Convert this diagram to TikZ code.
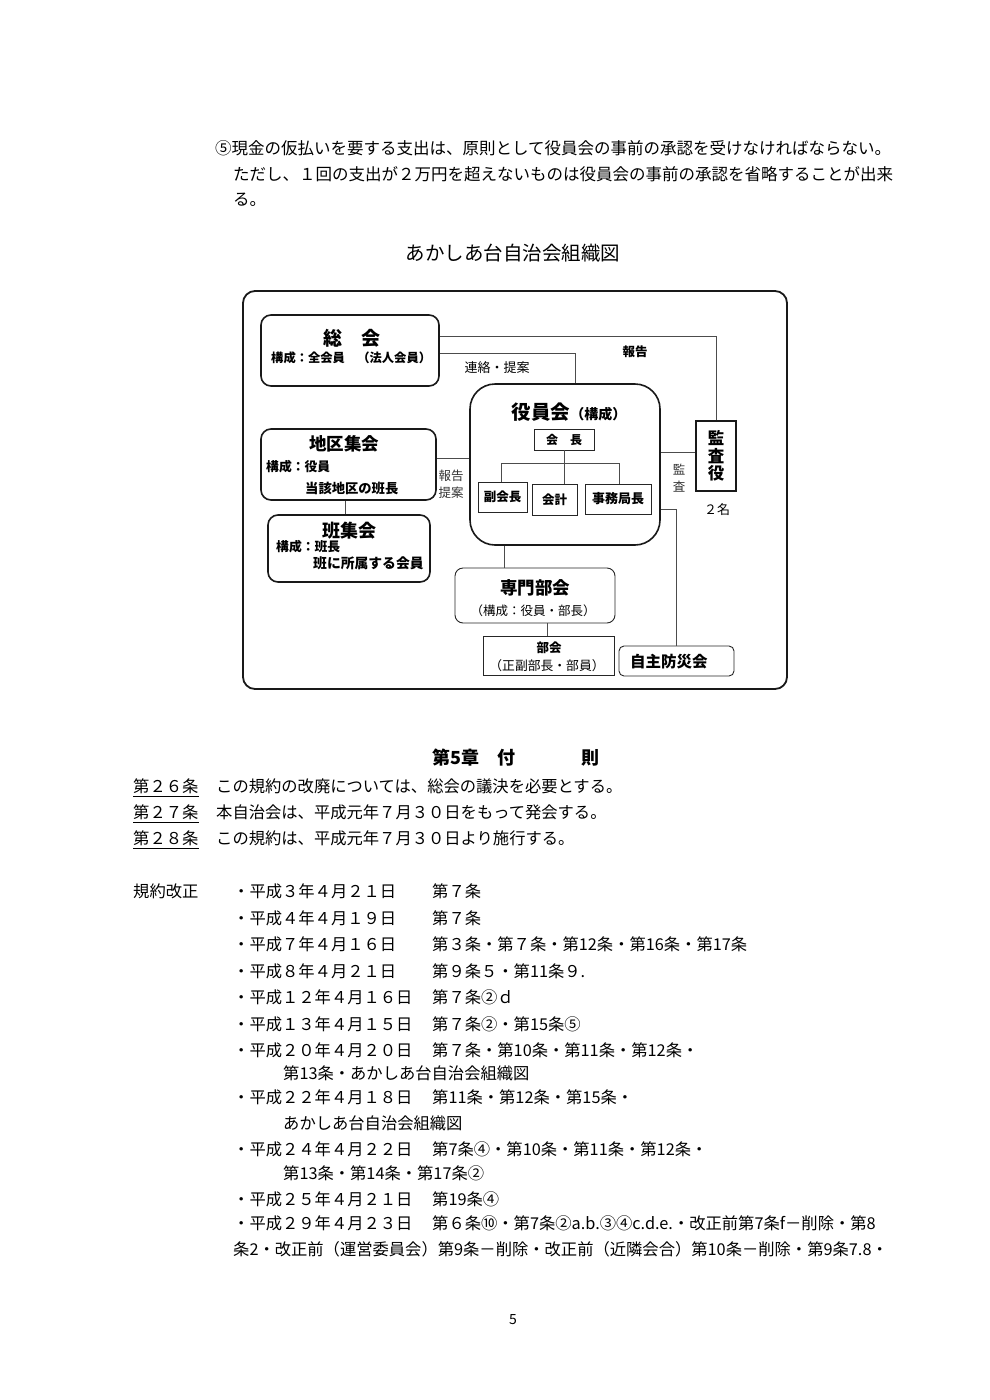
\documentclass[tikz,border=0pt]{standalone}
\usepackage{fontspec}
\setmainfont{Noto Sans CJK JP}
\usetikzlibrary{calc}
\newcommand\setfs[1]{\fontsize{#1}{#1}\selectfont}
\begin{document}
\begin{tikzpicture}[x=1pt,y=-1pt,
  txt/.style={inner sep=0pt, anchor=west},
  ctxt/.style={inner sep=0pt},
  mbox/.style={draw=black!90, line width=1.6pt, rounded corners=10pt, inner sep=0pt},
  sbox/.style={draw=black!85, line width=0.9pt, inner sep=0pt},
  conn/.style={draw=black!70, line width=0.9pt},
  body/.style={txt, font=\setfs{16.3}},
  lbl/.style={ctxt, font=\setfs{12.5}},
  blbl/.style={ctxt, font=\bfseries\setfs{12.5}}]
\fill[white] (0,0) rectangle (990,1400);
\useasboundingbox (0,0) rectangle (990,1400);

% ---- top paragraph
\node[txt, font=\setfs{16.5}] (p1) at (215,148) {⑤現金の仮払いを要する支出は、原則として役員会の事前の承認を受けなければならない。};
\node[txt, font=\setfs{16.5}] (p2) at (233,174) {ただし、１回の支出が２万円を超えないものは役員会の事前の承認を省略することが出来};
\node[txt, font=\setfs{16.5}] (p3) at (233,200) {る。};

\node[ctxt, font=\setfs{19.5}] (title) at (513,253) {あかしあ台自治会組織図};

% ---- diagram frame
\node[draw=black!90, line width=1.8pt, rounded corners=12pt, minimum width=544pt, minimum height=398pt, inner sep=0pt] (frame) at (515,490) {};

% boxes
\node[mbox, minimum width=178pt, minimum height=71pt] (soukai) at (350,350.5) {};
\node[mbox, minimum width=175pt, minimum height=71pt] (chiku) at (348.5,464.5) {};
\node[mbox, minimum width=162pt, minimum height=67pt] (han) at (349,548.5) {};
\node[mbox, rounded corners=25pt, minimum width=190pt, minimum height=161pt] (yakuin) at (565,464.5) {};
\node[sbox, minimum width=60pt, minimum height=21pt] (kaicho) at (564,439.5) {};
\node[sbox, minimum width=49pt, minimum height=30pt] (fuku) at (502.5,497) {};
\node[sbox, minimum width=45pt, minimum height=31pt] (kaikei) at (554.5,499.5) {};
\node[sbox, minimum width=66pt, minimum height=30pt] (jimu) at (618,499) {};
\node[draw=black!90, line width=1.8pt, inner sep=0pt, minimum width=40pt, minimum height=70pt] (kansa) at (716,456) {};
\node[sbox, rounded corners=8pt, minimum width=160pt, minimum height=55pt] (senmon) at (535,595.5) {};
\node[sbox, minimum width=131pt, minimum height=39pt] (bukai) at (548.5,655.5) {};
\node[sbox, rounded corners=5pt, minimum width=115pt, minimum height=30pt] (jishu) at (676.5,661) {};

% connectors
\draw[conn] ([yshift=14.5pt]soukai.east) -| (kansa.north);
\draw[conn] ([yshift=-2.5pt]soukai.east) -| ([xshift=10pt]yakuin.north);
\coordinate (cw) at ([yshift=6.5pt]chiku.east);
\draw[conn] (cw) -- (cw -| yakuin.west);
\draw[conn] ([xshift=-3pt]chiku.south) -- ([xshift=-3pt]chiku.south |- han.north);
\coordinate (kw) at ([yshift=4pt]kansa.west);
\draw[conn] (kw) -- (kw -| yakuin.east);
\coordinate (tj) at ([yshift=-13pt]kaicho.south);
\draw[conn] (kaicho.south) -- (kaicho.south |- kaikei.north);
\draw[conn] ([xshift=-1.5pt]fuku.north) -- ([xshift=-1.5pt]fuku.north |- tj) -- ([xshift=1pt]jimu.north |- tj) -- ([xshift=1pt]jimu.north);
\coordinate (sn) at ([xshift=-31pt]senmon.north);
\draw[conn] (sn) -- (sn |- yakuin.south);
\draw[conn] ([xshift=-1.5pt]bukai.north) -- ([xshift=-1.5pt]bukai.north |- senmon.south);
\draw[conn] (jishu.north) |- ([yshift=-44.5pt]yakuin.east);

% texts in boxes
\node[ctxt, font=\bfseries\setfs{19}] (t-soukai) at (352,338) {総　会};
\node[txt, font=\bfseries\setfs{12.3}] (t-soukai2) at (271,358) {構成：全会員　（法人会員）};
\node[ctxt, font=\bfseries\setfs{17.5}] (t-chiku) at (344,444) {地区集会};
\node[txt, font=\bfseries\setfs{12.8}] (t-chiku2) at (266,467) {構成：役員};
\node[txt, font=\bfseries\setfs{13.3}] (t-chiku3) at (305,488) {当該地区の班長};
\node[ctxt, font=\bfseries\setfs{18}] (t-han) at (349,531) {班集会};
\node[txt, font=\bfseries\setfs{12.8}] (t-han2) at (276,547) {構成：班長};
\node[txt, font=\bfseries\setfs{13.8}] (t-han3) at (313,563) {班に所属する会員};
\node[ctxt] (t-yakuin) at (569,412) {{\bfseries\setfs{19.5}役員会}{\bfseries\setfs{14}（構成）}};
\node[blbl, font=\bfseries\setfs{12}] (t-kaicho) at (kaicho) {会　長};
\node[blbl] (t-fuku) at (fuku) {副会長};
\node[blbl] (t-kaikei) at (kaikei) {会計};
\node[blbl, font=\bfseries\setfs{13}] (t-jimu) at (jimu) {事務局長};
\node[ctxt, align=center, font=\bfseries\fontsize{16.5}{17.5}\selectfont] (t-kansa) at (kansa) {監\\査\\役};
\node[ctxt, font=\bfseries\setfs{17.5}] (t-senmon) at (535,588) {専門部会};
\node[ctxt, font=\setfs{12.5}] (t-senmon2) at (533,611) {（構成：役員・部長）};
\node[blbl, font=\bfseries\setfs{12.5}] (t-bukai) at (549,648) {部会};
\node[ctxt, font=\setfs{12.8}] (t-bukai2) at (547,666) {（正副部長・部員）};
\node[txt, font=\bfseries\setfs{15.5}] (t-jishu) at (630,662) {自主防災会};

% connector labels
\node[lbl, font=\setfs{13}] (l-renraku) at (497,368) {連絡・提案};
\node[blbl, font=\bfseries\setfs{12.5}] (l-houkoku) at (635,352) {報告};
\node[ctxt, align=center, text=black!80, font=\fontsize{12.5}{17}\selectfont] (l-hk) at (451,484.5) {報告\\提案};
\node[ctxt, align=center, text=black!80, font=\fontsize{12.5}{17}\selectfont] (l-kansa) at (679,478.5) {監\\査};
\node[ctxt, font=\setfs{13}] (l-2mei) at (717,510) {２名};

% ---- chapter 5
\node[txt, font=\bfseries\setfs{18}] (ch5) at (432,758) {第5章\hspace{1em}付\hspace{3.7em}則};

\node[body] (a26) at (133,786) {第２６条};
\node[body] (a26t) at (216,786) {この規約の改廃については、総会の議決を必要とする。};
\node[body] (a27) at (133,812) {第２７条};
\node[body] (a27t) at (216,812) {本自治会は、平成元年７月３０日をもって発会する。};
\node[body] (a28) at (133,838) {第２８条};
\node[body] (a28t) at (216,838) {この規約は、平成元年７月３０日より施行する。};
\foreach \n in {a26,a27,a28}
  \draw[line width=0.8pt] ([yshift=-2.5pt]\n.south west) -- ([yshift=-2.5pt]\n.south east);

\node[body] (kaisei) at (133,891) {規約改正};
\node[body] (d1) at (233,891) {・平成３年４月２１日};
\node[body] (r1) at (432,891) {第７条};
\node[body] (d2) at (233,918) {・平成４年４月１９日};
\node[body] (r2) at (432,918) {第７条};
\node[body] (d3) at (233,944) {・平成７年４月１６日};
\node[body] (r3) at (432,944) {第３条・第７条・第12条・第16条・第17条};
\node[body] (d4) at (233,971) {・平成８年４月２１日};
\node[body] (r4) at (432,971) {第９条５・第11条９.};
\node[body] (d5) at (233,997) {・平成１２年４月１６日};
\node[body] (r5) at (432,997) {第７条②ｄ};
\node[body] (d6) at (233,1024) {・平成１３年４月１５日};
\node[body] (r6) at (432,1024) {第７条②・第15条⑤};
\node[body] (d7) at (233,1050) {・平成２０年４月２０日};
\node[body] (r7) at (432,1050) {第７条・第10条・第11条・第12条・};
\node[body] (r7b) at (283,1073) {第13条・あかしあ台自治会組織図};
\node[body] (d8) at (233,1097) {・平成２２年４月１８日};
\node[body] (r8) at (432,1097) {第11条・第12条・第15条・};
\node[body] (r8b) at (283,1123) {あかしあ台自治会組織図};
\node[body] (d9) at (233,1149) {・平成２４年４月２２日};
\node[body] (r9) at (432,1149) {第7条④・第10条・第11条・第12条・};
\node[body] (r9b) at (283,1173) {第13条・第14条・第17条②};
\node[body] (d10) at (233,1199) {・平成２５年４月２１日};
\node[body] (r10) at (432,1199) {第19条④};
\node[body] (d11) at (233,1223) {・平成２９年４月２３日};
\node[body] (r11) at (432,1223) {第６条⑩・第7条②a.b.③④c.d.e.・改正前第7条f－削除・第8};
\node[body] (r11b) at (233,1249) {条2・改正前（運営委員会）第9条－削除・改正前（近隣会合）第10条－削除・第9条7.8・};

\node[ctxt, font=\setfs{14}] (pageno) at (513,1320) {5};
\end{tikzpicture}
\end{document}
